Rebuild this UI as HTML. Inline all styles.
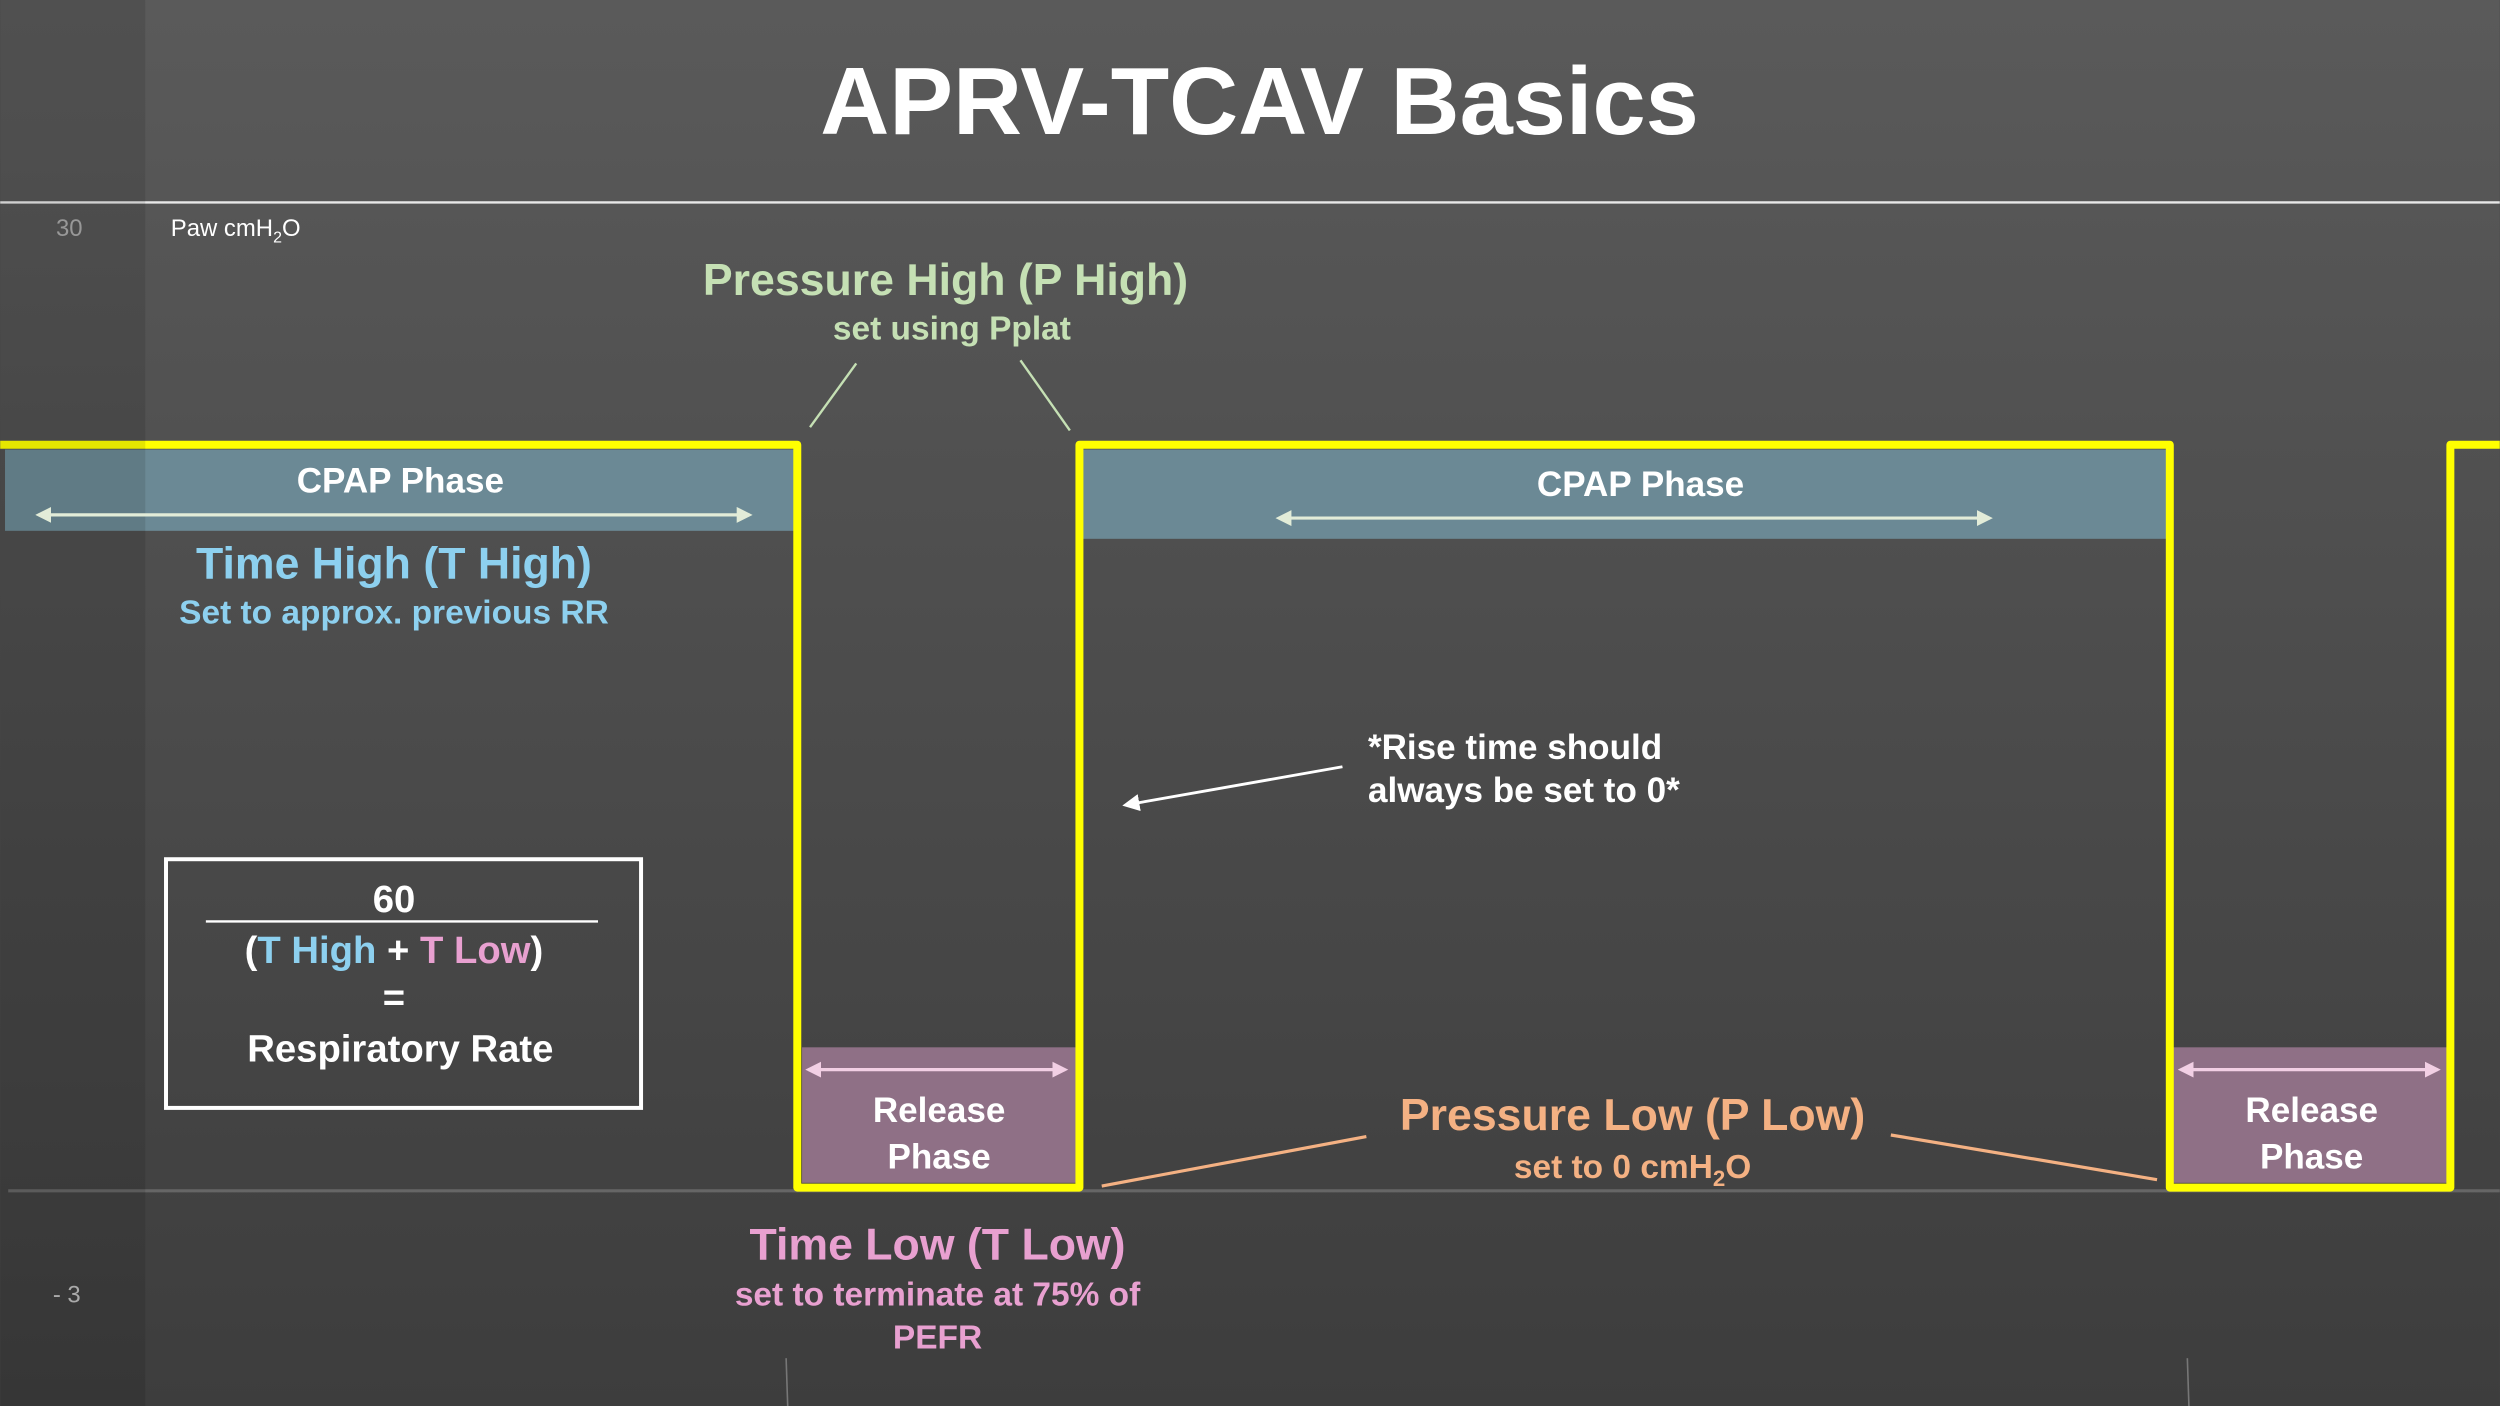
<!DOCTYPE html>
<html><head><meta charset="utf-8"><style>
html,body{margin:0;padding:0;background:#444;}
svg{display:block;}
text{font-family:"Liberation Sans",sans-serif;}
.b{font-weight:bold;}
</style></head><body>
<svg width="2500" height="1406" viewBox="0 0 1568 882" xmlns="http://www.w3.org/2000/svg">
<defs>
<linearGradient id="bg" x1="0" y1="0" x2="0" y2="1">
<stop offset="0" stop-color="#5a5a5a"/><stop offset="1" stop-color="#3d3d3d"/>
</linearGradient>
<marker id="ag" viewBox="0 0 10 10" refX="8" refY="5" markerWidth="5" markerHeight="5" orient="auto-start-reverse"><path d="M0,0L10,5L0,10z" fill="#e2ecd8"/></marker>
<marker id="ap" viewBox="0 0 10 10" refX="8" refY="5" markerWidth="5" markerHeight="5" orient="auto-start-reverse"><path d="M0,0L10,5L0,10z" fill="#f2cfe4"/></marker>
<marker id="aw" viewBox="0 0 10 10" refX="8" refY="5" markerWidth="6" markerHeight="6" orient="auto"><path d="M0,0L10,5L0,10z" fill="#fff"/></marker>
</defs>
<rect width="1568" height="882" fill="url(#bg)"/>
<text x="790" y="84" font-size="60" font-weight="bold" fill="#fff" text-anchor="middle">APRV-TCAV Basics</text>
<line x1="0" y1="127" x2="1568" y2="127" stroke="#e8e8e8" stroke-width="1.5"/>
<text x="35" y="148" font-size="15" fill="#aaa">30</text>
<text x="107" y="148" font-size="15" fill="#fff">Paw cmH<tspan font-size="10" dy="4">2</tspan><tspan dy="-4">O</tspan></text>
<rect x="3" y="282" width="495" height="51" fill="#6b8995"/>
<rect x="679" y="282" width="680" height="56" fill="#6b8995"/>
<rect x="503" y="657" width="172" height="85" fill="#8f7086"/>
<rect x="1363" y="657" width="172" height="85" fill="#8f7086"/>
<line x1="5" y1="747" x2="1568" y2="747" stroke="#666" stroke-width="2"/>
<path d="M0,279 H500 V745 H677 V279 H1361 V745 H1537 V279 H1568" fill="none" stroke="#ffff00" stroke-width="5" stroke-linejoin="round"/>
<rect x="0" y="0" width="91" height="882" fill="#000" opacity="0.1"/>
<text class="b" x="251" y="309" font-size="22" fill="#fff" text-anchor="middle">CPAP Phase</text>
<line x1="24" y1="323" x2="470" y2="323" stroke="#e2ecd8" stroke-width="2" marker-start="url(#ag)" marker-end="url(#ag)"/>
<text class="b" x="1029" y="311" font-size="22" fill="#fff" text-anchor="middle">CPAP Phase</text>
<line x1="802" y1="325" x2="1248" y2="325" stroke="#e2ecd8" stroke-width="2" marker-start="url(#ag)" marker-end="url(#ag)"/>
<line x1="507" y1="671" x2="668" y2="671" stroke="#f2cfe4" stroke-width="2" marker-start="url(#ap)" marker-end="url(#ap)"/>
<text class="b" x="589" y="704" font-size="22" fill="#fff" text-anchor="middle">Release</text>
<text class="b" x="589" y="733" font-size="22" fill="#fff" text-anchor="middle">Phase</text>
<line x1="1368" y1="671" x2="1529" y2="671" stroke="#f2cfe4" stroke-width="2" marker-start="url(#ap)" marker-end="url(#ap)"/>
<text class="b" x="1450" y="704" font-size="22" fill="#fff" text-anchor="middle">Release</text>
<text class="b" x="1450" y="733" font-size="22" fill="#fff" text-anchor="middle">Phase</text>
<text class="b" x="593" y="185" font-size="28" fill="#c5e0b4" text-anchor="middle">Pressure High (P High)</text>
<text class="b" x="597" y="213" font-size="21" fill="#c5e0b4" text-anchor="middle">set using Pplat</text>
<line x1="537" y1="228" x2="508" y2="268" stroke="#c5e0b4" stroke-width="1.5"/>
<line x1="640" y1="226" x2="671" y2="270" stroke="#c5e0b4" stroke-width="1.5"/>
<text class="b" x="247" y="363" font-size="28" fill="#8dd0ef" text-anchor="middle">Time High (T High)</text>
<text class="b" x="247" y="391" font-size="21" fill="#8dd0ef" text-anchor="middle">Set to approx. previous RR</text>
<rect x="104" y="539" width="298" height="156" fill="none" stroke="#fff" stroke-width="2.5"/>
<text class="b" x="247" y="572" font-size="24" fill="#fff" text-anchor="middle">60</text>
<line x1="129" y1="578" x2="375" y2="578" stroke="#fff" stroke-width="1.5"/>
<text class="b" x="247" y="604" font-size="24" fill="#fff" text-anchor="middle">(<tspan fill="#8dd0ef">T High</tspan> + <tspan fill="#e8a0d0">T Low</tspan>)</text>
<text class="b" x="247" y="634" font-size="24" fill="#fff" text-anchor="middle">=</text>
<text class="b" x="251" y="666" font-size="24" fill="#fff" text-anchor="middle">Respiratory Rate</text>
<line x1="842" y1="481" x2="706" y2="505" stroke="#fff" stroke-width="1.8" marker-end="url(#aw)"/>
<text class="b" x="858" y="476" font-size="22" fill="#fff">*Rise time should</text>
<text class="b" x="858" y="503" font-size="22" fill="#fff">always be set to 0*</text>
<text class="b" x="1024" y="709" font-size="28" fill="#f4b183" text-anchor="middle">Pressure Low (P Low)</text>
<text class="b" x="1024" y="739" font-size="21" fill="#f4b183" text-anchor="middle">set to 0 cmH<tspan font-size="14" dy="5">2</tspan><tspan dy="-5">O</tspan></text>
<line x1="857" y1="713" x2="691" y2="744" stroke="#f4b183" stroke-width="2"/>
<line x1="1186" y1="712" x2="1353" y2="740" stroke="#f4b183" stroke-width="2"/>
<text class="b" x="588" y="790" font-size="28" fill="#e8a0d0" text-anchor="middle">Time Low (T Low)</text>
<text class="b" x="588" y="819" font-size="21" fill="#e8a0d0" text-anchor="middle">set to terminate at 75% of</text>
<text class="b" x="588" y="846" font-size="21" fill="#e8a0d0" text-anchor="middle">PEFR</text>
<text x="33" y="817" font-size="15" fill="#aaa">- 3</text>
<line x1="493" y1="852" x2="494" y2="882" stroke="#777" stroke-width="1"/>
<line x1="1372" y1="852" x2="1373" y2="882" stroke="#777" stroke-width="1"/>
</svg>
</body></html>
